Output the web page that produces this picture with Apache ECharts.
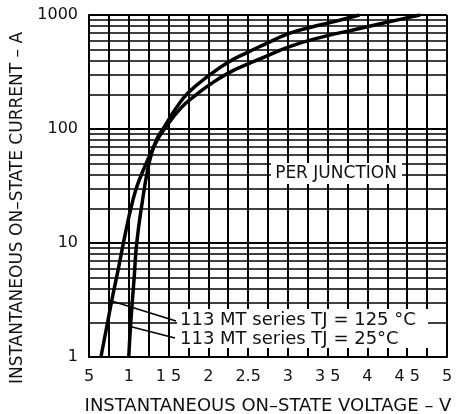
<!DOCTYPE html>
<html>
<head>
<meta charset="utf-8">
<script src="https://cdn.jsdelivr.net/npm/echarts@6/dist/echarts.min.js"></script>
<style>
html, body { margin: 0; padding: 0; background: #fff; }
#main { width: 458px; height: 414px; }
</style>
</head>
<body>
<div id="main"></div>
<script>
// on-state voltage (V) / current (A)
var volts125 = [0.65, 0.785, 0.87, 0.95, 1.04, 1.12, 1.27, 1.35, 1.43, 1.66, 1.85, 2.0, 2.25, 2.5, 2.65, 3.03, 3.45, 3.86, 4.41, 4.66];
var amps125  = [1.0, 3.1, 6.0, 11.5, 22, 34, 60, 78, 96, 154, 200, 240, 309, 372, 412, 531, 646, 750, 916, 1000];
var volts25  = [1.0, 1.025, 1.068, 1.10, 1.17, 1.24, 1.29, 1.36, 1.43, 1.6, 1.747, 2.0, 2.25, 2.5, 2.65, 3.025, 3.3, 3.57, 3.9];
var amps25   = [1.0, 2.0, 5.0, 10, 23, 45, 62, 84, 100, 154, 208, 292, 385, 473, 530, 692, 785, 871, 1000];

var xTickLabels = ['5', '1', '1 5', '2', '2.5', '3', '3 5', '4', '4 5', '5'];
var minorGridAmps = [2, 3, 4, 5, 6, 7, 8, 9, 20, 30, 40, 50, 60, 70, 80, 90, 200, 300, 400, 500, 600, 700, 800, 900];

// leader line anchors on the curves
var pointer125 = [0.785, 3.1];
var pointer25 = [1.018, 1.85];

var FONT = 'DejaVu Sans';

function pairs(xs, ys) {
    return xs.map(function (x, i) { return [x, ys[i]]; });
}

var myChart = echarts.init(document.getElementById('main'));

var option = {
    animation: false,
    backgroundColor: '#fff',
    grid: {
        left: 89,
        right: 11,
        top: 15,
        bottom: 57,
        outerBoundsMode: 'none'
    },
    xAxis: {
        type: 'value',
        min: 0.5,
        max: 5,
        interval: 0.25,
        name: 'INSTANTANEOUS ON–STATE VOLTAGE – V',
        nameLocation: 'middle',
        nameGap: 40,
        nameTextStyle: { fontFamily: FONT, fontSize: 18, color: '#111' },
        axisLine: { show: true, lineStyle: { color: '#000', width: 2 } },
        axisTick: { show: false },
        axisLabel: {
            margin: 12,
            fontFamily: FONT,
            fontSize: 16,
            color: '#111',
            formatter: function (v) {
                var h = v * 2;
                if (Math.abs(h - Math.round(h)) > 1e-6) return '';
                return xTickLabels[Math.round(h) - 1] || '';
            }
        },
        splitLine: { show: true, lineStyle: { color: '#000', width: 2 } }
    },
    yAxis: {
        type: 'log',
        logBase: 10,
        min: 1,
        max: 1000,
        name: 'INSTANTANEOUS ON–STATE CURRENT – A',
        nameLocation: 'middle',
        nameGap: 63,
        nameTextStyle: { fontFamily: FONT, fontSize: 17, color: '#111', padding: [0, 44, 0, 0] },
        axisLine: { show: true, lineStyle: { color: '#000', width: 2 } },
        axisTick: { show: false },
        axisLabel: {
            margin: 11,
            fontFamily: FONT,
            fontSize: 16,
            color: '#111',
            formatter: function (v) { return String(v); }
        },
        splitLine: { show: true, lineStyle: { color: '#000', width: 2 } }
    },
    series: [
        {
            name: 'TJ = 125 °C',
            type: 'line',
            data: pairs(volts125, amps125),
            smooth: 0.5,
            showSymbol: false,
            lineStyle: { color: '#000', width: 3.5 },
            z: 5,
            markLine: {
                silent: true,
                symbol: 'none',
                label: { show: false },
                lineStyle: { color: '#000', type: 'solid', width: 1.6 },
                data: minorGridAmps.map(function (a) { return { yAxis: a }; })
            }
        },
        {
            name: 'TJ = 25 °C',
            type: 'line',
            data: pairs(volts25, amps25),
            smooth: 0.5,
            showSymbol: false,
            lineStyle: { color: '#000', width: 3.5 },
            z: 5
        }
    ]
};
myChart.setOption(option);

var p125 = myChart.convertToPixel({ gridIndex: 0 }, pointer125);
var p25 = myChart.convertToPixel({ gridIndex: 0 }, pointer25);

myChart.setOption({
    graphic: [
        { type: 'rect', shape: { x: 271, y: 163, width: 131, height: 21 }, style: { fill: '#fff' }, z: 10 },
        { type: 'text', x: 336, y: 174, style: { text: 'PER JUNCTION', fontFamily: FONT, fontSize: 17, fill: '#111', align: 'center', verticalAlign: 'middle' }, z: 11 },
        { type: 'rect', shape: { x: 177, y: 309, width: 251, height: 39 }, style: { fill: '#fff' }, z: 10 },
        { type: 'text', x: 180, y: 320, style: { text: '113 MT series TJ = 125 °C', fontFamily: FONT, fontSize: 18, fill: '#111', align: 'left', verticalAlign: 'middle' }, z: 11 },
        { type: 'text', x: 180, y: 339, style: { text: '113 MT series TJ = 25°C', fontFamily: FONT, fontSize: 18, fill: '#111', align: 'left', verticalAlign: 'middle' }, z: 11 },
        { type: 'line', shape: { x1: p125[0], y1: p125[1], x2: 176, y2: 321 }, style: { stroke: '#000', lineWidth: 1.5 }, z: 11 },
        { type: 'line', shape: { x1: p25[0], y1: p25[1], x2: 175, y2: 338 }, style: { stroke: '#000', lineWidth: 1.5 }, z: 11 }
    ]
});
</script>
</body>
</html>
